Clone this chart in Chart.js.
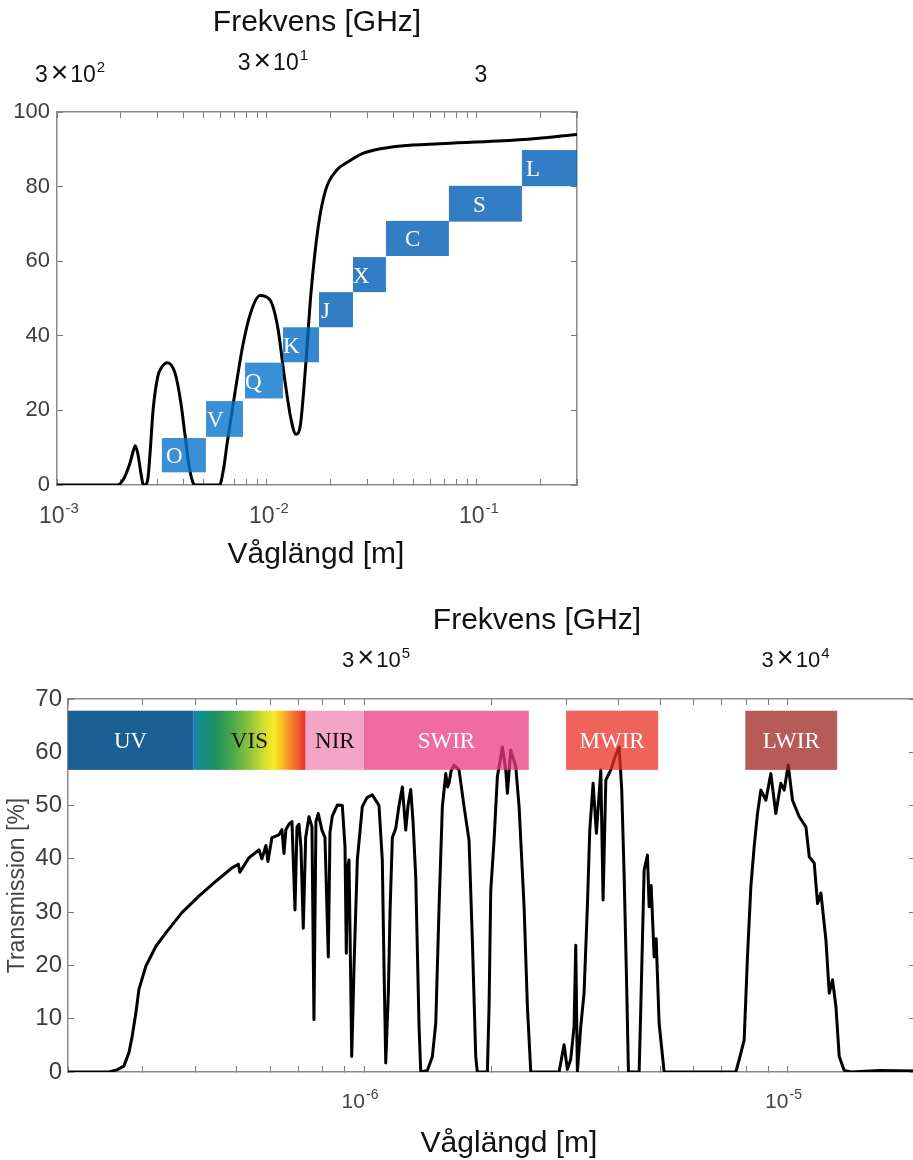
<!DOCTYPE html>
<html><head><meta charset="utf-8">
<script src="https://cdn.jsdelivr.net/npm/chart.js@4.4.1/dist/chart.umd.min.js"></script>
<style>
html,body{margin:0;padding:0;background:#fff;width:913px;height:1160px;overflow:hidden}
.box{position:absolute;left:0;height:580px}
</style></head><body>
<div class="box" style="top:0;width:913px"><canvas id="c1"></canvas></div>
<div class="box" style="top:580px;width:915px"><canvas id="c2"></canvas></div>
<script>
// ---------- DATA: top chart (microwave) ----------
const mwWavelength = [0.001, 0.00193, 0.00207, 0.002215, 0.00232, 0.00236, 0.002424, 0.002513, 0.002568, 0.002623, 0.002714, 0.002771, 0.002868, 0.003018, 0.003148, 0.003353, 0.003651, 0.003892, 0.004059, 0.004235, 0.004417, 0.004571, 0.005945, 0.006203, 0.006471, 0.007046, 0.007664, 0.008347, 0.009279, 0.010318, 0.011233, 0.012222, 0.013027, 0.01376, 0.014416, 0.015288, 0.016216, 0.017559, 0.019024, 0.021502, 0.024286, 0.028653, 0.035228, 0.043551, 0.066526, 0.12575, 0.19213, 0.3];
const mwTransmission = [0, 0, 1.5, 5.5, 9.5, 10.5, 8.5, 3, 0.3, 0, 2, 8, 20, 29, 31.5, 32.8, 30, 22, 14, 6, 1, 0, 0, 4, 11.4, 24.8, 37.2, 46, 50.8, 49.7, 42.6, 27.4, 17.6, 13.6, 15.9, 31.9, 51.5, 69.3, 79, 84.4, 86.6, 88.9, 90.2, 90.9, 91.5, 92.2, 92.9, 94];
const mwBandNames = ['O', 'V', 'Q', 'K', 'J', 'X', 'C', 'S', 'L'];
const mwBandStart = [0.00316, 0.00513, 0.00786, 0.01192, 0.0177, 0.0257, 0.0369, 0.0736, 0.164];
const mwBandEnd   = [0.00512, 0.00769, 0.01192, 0.0177, 0.0257, 0.0369, 0.0736, 0.164, 0.3];
const mwBandLow   = [3.4, 12.9, 23.2, 32.9, 42.3, 51.7, 61.4, 70.6, 80.1];
const mwBandHigh  = [12.6, 22.5, 32.8, 42.3, 51.7, 61.1, 70.8, 80.2, 89.8];
const mwWaveTicks = [1e-3, 1e-2, 1e-1];
const mwWaveTickExp = ['-3', '-2', '-1'];
const mwFreqTickBase = ['3×10', '3×10', '3'];
const mwFreqTickExp = ['2', '1', ''];
const mwYTicks = [0, 20, 40, 60, 80, 100];

// ---------- DATA: bottom chart (optical / IR), wavelength in µm ----------
const irWavelengthUm = [0.2, 0.2497, 0.2609, 0.271, 0.2785, 0.2831, 0.2893, 0.2941, 0.3055, 0.3226, 0.3405, 0.3715, 0.4075, 0.4471, 0.4877, 0.505, 0.509, 0.535, 0.5649, 0.574, 0.5867, 0.5931, 0.6062, 0.6296, 0.64, 0.6471, 0.654, 0.6649, 0.6759, 0.6871, 0.6946, 0.7021, 0.7099, 0.7187, 0.7282, 0.7413, 0.7535, 0.7617, 0.77, 0.7798, 0.7955, 0.8087, 0.8235, 0.8311, 0.8415, 0.8649, 0.8887, 0.9018, 0.9082, 0.9142, 0.9216, 0.9292, 0.9353, 0.9419, 0.9471, 0.9643, 0.9908, 1.0165, 1.0462, 1.0849, 1.1045, 1.1147, 1.1254, 1.1414, 1.152, 1.1665, 1.1883, 1.2097, 1.2317, 1.2546, 1.2703, 1.2892, 1.3055, 1.3248, 1.3489, 1.3614, 1.4111, 1.4502, 1.4772, 1.504, 1.5311, 1.5596, 1.575, 1.588, 1.6053, 1.6317, 1.6766, 1.7228, 1.7701, 1.8022, 1.8357, 1.8518, 1.9556, 1.9737, 1.992, 2.0281, 2.0648, 2.1217, 2.1612, 2.1802, 2.2207, 2.2819, 2.3237, 2.3878, 2.4311, 2.4763, 2.8878, 2.9674, 3.0212, 3.0773, 3.133, 3.1621, 3.1899, 3.2492, 3.3081, 3.3681, 3.4126, 3.4745, 3.5376, 3.6234, 3.6688, 3.7239, 3.8264, 3.9174, 4.0032, 4.06, 4.1134, 4.1657, 4.2111, 4.4632, 4.5045, 4.5861, 4.6693, 4.7126, 4.765, 4.8424, 4.8961, 4.9757, 5.1129, 7.5511, 7.688, 7.9, 8.0434, 8.193, 8.3417, 8.493, 8.651, 8.889, 9.133, 9.384, 9.642, 9.822, 10.039, 10.276, 10.657, 11.053, 11.254, 11.564, 11.773, 11.992, 12.322, 12.546, 12.773, 13.011, 13.247, 13.612, 14.118, 16.469, 20];
const irTransmission = [0, 0, 0.4, 1.1, 3.6, 6.4, 11.1, 15.5, 19.9, 23.6, 26.1, 29.9, 33, 35.8, 38.3, 39, 37.5, 40.2, 41.7, 40, 42.5, 39.5, 44, 44.5, 45.5, 41, 45.5, 46.5, 47, 30.4, 46, 46.5, 42, 27, 44, 47.9, 46, 9.8, 47, 48.5, 45.4, 44, 21.6, 45, 48, 50.1, 50, 42.3, 22.3, 38, 39.8, 20, 2.9, 12, 19.8, 39.8, 49.8, 51.5, 52, 50, 39.8, 20, 1.7, 14.8, 30, 44, 45.7, 50, 53.5, 45.4, 50, 53, 47, 36.6, 8.5, 0, 0.3, 2.9, 9.2, 31, 49.8, 56, 53.5, 54.2, 56.5, 57.6, 56.7, 49.8, 43.5, 24.8, 2.9, 0, 0, 12.3, 34.1, 43.5, 55.4, 61, 56.7, 52.3, 60.4, 57.3, 49.8, 31, 12.3, 0, 0, 5.1, 0.5, 2.4, 8.5, 23.8, 0, 8.5, 14.8, 31, 45.4, 54.2, 44.8, 56.7, 32.3, 54.8, 56.7, 59.2, 61, 53, 37, 18, 0, 0, 12.3, 37.9, 40.7, 31, 35, 21.6, 25, 9.1, 0, 0, 2.3, 6, 21.6, 34.8, 42.3, 48.5, 52.9, 51, 56, 48.5, 54.2, 52.9, 57.6, 51, 47.9, 46, 40.4, 39.2, 31.6, 33.6, 24.8, 14.8, 17.3, 12.3, 2.9, 0.3, 0, 0.3, 0.2];
const irBandNames = ['UV', 'VIS', 'NIR', 'SWIR', 'MWIR', 'LWIR'];
const irBandStartUm = [0.2, 0.395, 0.728, 1.0, 3.0, 7.95];
const irBandEndUm   = [0.395, 0.728, 1.0, 2.45, 4.95, 13.1];
const irBandLow  = [56.7, 56.7, 56.7, 56.7, 56.7, 56.7];
const irBandHigh = [67.8, 67.8, 67.8, 67.8, 67.8, 67.8];
const irWaveTicks = [1e-6, 1e-5];
const irWaveTickExp = ['-6', '-5'];
const irFreqTickBase = ['3×10', '3×10'];
const irFreqTickExp = ['5', '4'];
const irYTicks = [0, 10, 20, 30, 40, 50, 60, 70];

// ---------- STYLE ----------
const SANS = '"Liberation Sans", Arial, sans-serif';
const SERIF = '"Liberation Serif", "Times New Roman", serif';
const mwBandFill = ['rgba(9,116,201,0.8)','rgba(9,116,201,0.8)','rgba(9,116,201,0.8)','rgba(4,108,194,0.8)','rgba(0,92,182,0.8)','rgba(0,92,182,0.8)','rgba(0,92,182,0.8)','rgba(0,92,182,0.8)','rgba(0,92,182,0.8)'];
const mwLabelDx = [4, 1, 0, 0, 2, 0, 19, 24, 4];
const irBandFill = ['#1b5e91', 'VIS', '#f4a5c5', 'rgba(235,58,127,0.75)', 'rgba(235,47,36,0.75)', 'rgba(158,36,32,0.75)'];
const irLabelColor = ['#fff', '#111', '#111', '#fff', '#fff', '#fff'];
const visStops = [[0,'#1f7bc0'],[0.05,'#138f8f'],[0.2,'#1c9060'],[0.35,'#48a84b'],[0.53,'#9cc93c'],[0.64,'#d8e030'],[0.72,'#f7e927'],[0.79,'#fbbf22'],[0.85,'#f5912f'],[0.94,'#ef5a2a'],[1,'#e62a2a']];

function logTicks(min, max) {
  const out = [];
  for (let e = -8; e <= 0; e++) for (let m = 1; m <= 9; m++) {
    const v = +(m * Math.pow(10, e)).toPrecision(4);
    if (v >= min * 0.999 && v <= max * 1.001) out.push(v);
  }
  return out;
}

function drawPower(ctx, base, exp, x, y, size, color) {
  const parts = [];
  const f = s => s + 'px ' + SANS;
  if (base.indexOf('×') >= 0) {
    const [a, b] = base.split('×');
    parts.push({ t: a, font: f(size) });
    parts.push({ t: '×', font: f(Math.round(size * 1.3)), padL: 3, padR: 2 });
    parts.push({ t: b, font: f(size) });
  } else parts.push({ t: base, font: f(size) });
  if (exp) parts.push({ t: exp, font: f(Math.round(size * 0.66)), dy: -Math.round(size * 0.42), padL: 1 });
  let w = 0;
  parts.forEach(p => { ctx.font = p.font; p.w = ctx.measureText(p.t).width + (p.padL || 0) + (p.padR || 0); w += p.w; });
  let cx = x - w / 2;
  ctx.fillStyle = color; ctx.textAlign = 'left'; ctx.textBaseline = 'alphabetic';
  parts.forEach(p => { ctx.font = p.font; ctx.fillText(p.t, cx + (p.padL || 0), y + (p.dy || 0)); cx += p.w; });
}
function drawCentered(ctx, text, x, y, font, color) {
  ctx.font = font; ctx.fillStyle = color; ctx.textAlign = 'center'; ctx.textBaseline = 'alphabetic';
  ctx.fillText(text, x, y);
}

function frameAxis(opts) {
  return Object.assign({
    grid: { display: true, drawOnChartArea: false, drawTicks: true, tickLength: -6, color: '#7a7a7a', lineWidth: 1 },
    border: { display: true, color: '#8a8a8a', width: 1.5 }
  }, opts);
}

// ---------- TOP CHART ----------
const mwTickVals = logTicks(1e-3, 0.3);
const topPlugin = {
  id: 'topDeco',
  afterDatasetsDraw(chart) {
    const ctx = chart.ctx, xs = chart.scales.x, ys = chart.scales.y;
    ctx.save();
    mwBandNames.forEach((n, i) => {
      const x1 = xs.getPixelForValue(mwBandStart[i]), x2 = xs.getPixelForValue(mwBandEnd[i]);
      const y1 = ys.getPixelForValue(mwBandHigh[i]), y2 = ys.getPixelForValue(mwBandLow[i]);
      ctx.fillStyle = mwBandFill[i];
      ctx.fillRect(x1, y1, x2 - x1, y2 - y1);
      ctx.fillStyle = '#fff'; ctx.font = '23px ' + SERIF; ctx.textAlign = 'left'; ctx.textBaseline = 'alphabetic';
      ctx.fillText(n, x1 + mwLabelDx[i], (y1 + y2) / 2 + 8);
    });
    ctx.restore();
  },
  afterDraw(chart) {
    const ctx = chart.ctx, xs = chart.scales.x;
    ctx.save();
    drawCentered(ctx, 'Frekvens [GHz]', 317, 31, '30px ' + SANS, '#111');
    const fdx = [13, 6, 4], fy = [82, 70, 82];
    mwFreqTickBase.forEach((b, i) => drawPower(ctx, b, mwFreqTickExp[i], xs.getPixelForValue(mwWaveTicks[i]) + fdx[i], fy[i], 23, '#111'));
    mwWaveTicks.forEach((v, i) => drawPower(ctx, '10', mwWaveTickExp[i], xs.getPixelForValue(v) + 2, 523, 23, '#444'));
    drawCentered(ctx, 'Våglängd [m]', 316, 563, '30px ' + SANS, '#111');
    ctx.restore();
  }
};
new Chart(document.getElementById('c1'), {
  type: 'line',
  data: { datasets: [{ data: mwWavelength.map((x, i) => ({ x, y: mwTransmission[i] })), borderColor: '#000', borderWidth: 3, pointRadius: 0, cubicInterpolationMode: 'monotone', fill: false }] },
  options: {
    responsive: true, maintainAspectRatio: false, animation: false, events: [],
    layout: { padding: { left: 0, right: 336, top: 0, bottom: 0 } },
    plugins: { legend: { display: false }, tooltip: { enabled: false } },
    scales: {
      x: frameAxis({ type: 'logarithmic', position: 'bottom', min: 1e-3, max: 0.3,
        afterBuildTicks: s => { s.ticks = mwTickVals.map(v => ({ value: v })); },
        ticks: { display: false }, afterFit: s => { s.height = 95; } }),
      x2: frameAxis({ type: 'logarithmic', position: 'top', min: 1e-3, max: 0.3,
        afterBuildTicks: s => { s.ticks = mwTickVals.map(v => ({ value: v })); },
        ticks: { display: false }, afterFit: s => { s.height = 112; } }),
      y: frameAxis({ type: 'linear', position: 'left', min: 0, max: 100,
        afterBuildTicks: s => { s.ticks = mwYTicks.map(v => ({ value: v })); },
        ticks: { padding: 13, color: '#3c3c3c', font: { family: SANS, size: 22 } }, afterFit: s => { s.width = 57; } }),
      y2: frameAxis({ type: 'linear', position: 'right', min: 0, max: 100,
        afterBuildTicks: s => { s.ticks = mwYTicks.map(v => ({ value: v })); },
        ticks: { display: false }, afterFit: s => { s.width = 0; } })
    }
  },
  plugins: [topPlugin]
});

// ---------- BOTTOM CHART ----------
const irTickVals = logTicks(2e-7, 2e-5);
const botPlugin = {
  id: 'botDeco',
  afterDatasetsDraw(chart) {
    const ctx = chart.ctx, xs = chart.scales.x, ys = chart.scales.y;
    ctx.save();
    irBandNames.forEach((n, i) => {
      const x1 = xs.getPixelForValue(irBandStartUm[i] * 1e-6), x2 = xs.getPixelForValue(irBandEndUm[i] * 1e-6);
      const y1 = ys.getPixelForValue(irBandHigh[i]), y2 = ys.getPixelForValue(irBandLow[i]);
      if (irBandFill[i] === 'VIS') {
        const g = ctx.createLinearGradient(x1, 0, x2, 0);
        visStops.forEach(s => g.addColorStop(s[0], s[1]));
        ctx.fillStyle = g;
      } else ctx.fillStyle = irBandFill[i];
      ctx.fillRect(x1, y1, x2 - x1, y2 - y1);
      ctx.fillStyle = irLabelColor[i]; ctx.font = '23px ' + SERIF; ctx.textAlign = 'center'; ctx.textBaseline = 'alphabetic';
      ctx.fillText(n, (x1 + x2) / 2, (y1 + y2) / 2 + 8);
    });
    ctx.restore();
  },
  afterDraw(chart) {
    const ctx = chart.ctx, xs = chart.scales.x;
    ctx.save();
    drawCentered(ctx, 'Frekvens [GHz]', 537, 49, '30px ' + SANS, '#111');
    const fdx = [12, 8];
    irFreqTickBase.forEach((b, i) => drawPower(ctx, b, irFreqTickExp[i], xs.getPixelForValue(irWaveTicks[i]) + fdx[i], 87, 22, '#111'));
    irWaveTicks.forEach((v, i) => drawPower(ctx, '10', irWaveTickExp[i], xs.getPixelForValue(v) - 4, 528, 21, '#444'));
    drawCentered(ctx, 'Våglängd [m]', 509, 572, '30px ' + SANS, '#111');
    ctx.restore();
  }
};
new Chart(document.getElementById('c2'), {
  type: 'line',
  data: { datasets: [{ data: irWavelengthUm.map((x, i) => ({ x: x * 1e-6, y: irTransmission[i] })), borderColor: '#000', borderWidth: 3, pointRadius: 0, tension: 0, fill: false, borderJoinStyle: 'round' }] },
  options: {
    responsive: true, maintainAspectRatio: false, animation: false, events: [],
    layout: { padding: { left: 0, right: 0, top: 0, bottom: 0 } },
    plugins: { legend: { display: false }, tooltip: { enabled: false } },
    scales: {
      x: frameAxis({ type: 'logarithmic', position: 'bottom', min: 2e-7, max: 2e-5,
        afterBuildTicks: s => { s.ticks = irTickVals.map(v => ({ value: v })); },
        ticks: { display: false }, afterFit: s => { s.height = 88; } }),
      x2: frameAxis({ type: 'logarithmic', position: 'top', min: 2e-7, max: 2e-5,
        afterBuildTicks: s => { s.ticks = irTickVals.map(v => ({ value: v })); },
        ticks: { display: false }, afterFit: s => { s.height = 119; } }),
      y: frameAxis({ type: 'linear', position: 'left', min: 0, max: 70,
        afterBuildTicks: s => { s.ticks = irYTicks.map(v => ({ value: v })); },
        title: { display: true, text: 'Transmission [%]', color: '#444', font: { family: SANS, size: 23 }, padding: { top: 4, bottom: 0 } },
        ticks: { padding: 12, color: '#3c3c3c', font: { family: SANS, size: 24 } }, afterFit: s => { s.width = 68; } }),
      y2: Object.assign(frameAxis({ type: 'linear', position: 'right', min: 0, max: 70,
        afterBuildTicks: s => { s.ticks = irYTicks.map(v => ({ value: v })); },
        ticks: { display: false }, afterFit: s => { s.width = 0; } }), { border: { display: false } })
    }
  },
  plugins: [botPlugin]
});
</script>
</body></html>
